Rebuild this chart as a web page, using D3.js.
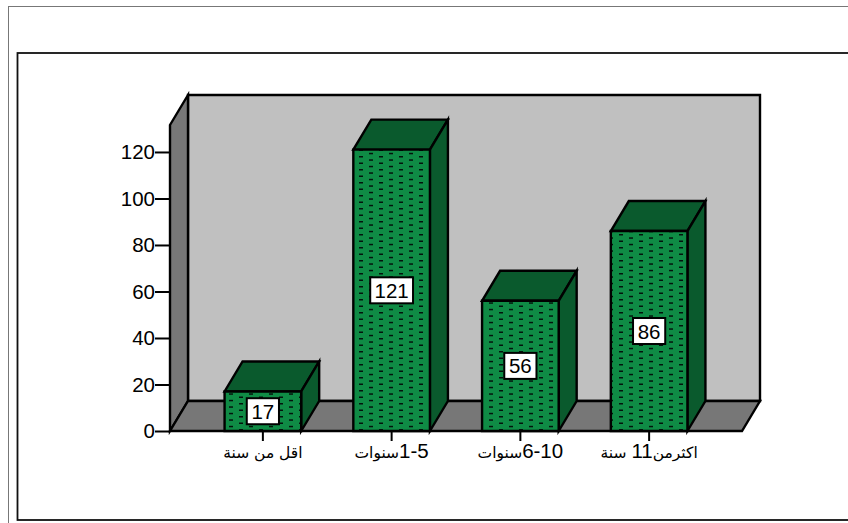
<!DOCTYPE html>
<html>
<head>
<meta charset="utf-8">
<script src="https://cdn.jsdelivr.net/npm/d3@7"></script>
<style>
  html, body { margin: 0; padding: 0; background: #fff; }
  svg { display: block; }
  text { font-family: "Liberation Sans", Arial, sans-serif; fill: #000; }
</style>
</head>
<body>
<svg id="chart" width="848" height="523"></svg>
<script>
// Bar chart with a box-style 3D frame: number of people per years-of-experience group.
const categories = ["اقل من سنة", "1-5سنوات", "6-10سنوات", "اكثرمن11 سنة"];
const counts = [17, 121, 56, 86];
const yTicks = [0, 20, 40, 60, 80, 100, 120];

const colors = { wall: "#c0c0c0", floor: "#777777", front: "#0f8b45", shade: "#0a5a2d", ink: "#000" };
const depth = { x: 18, y: -30 };
const plot = { left: 170, right: 742, bottom: 431, top: 125 };
const digitFont = '"Liberation Sans", Arial, sans-serif';

const svg = d3.select("#chart");

const y = d3.scaleLinear().domain([0, 131.6]).range([plot.bottom, plot.top]);
const x = d3.scaleBand().domain(categories).range([198.5, 713.5]).paddingInner(0.405).paddingOuter(0.2025);

const poly = (pts, fill) => svg.append("polygon")
  .attr("points", pts.map(p => p.join(",")).join(" "))
  .attr("fill", fill)
  .attr("stroke", colors.ink)
  .attr("stroke-width", 2.4)
  .attr("stroke-linejoin", "miter");

// Page frames
svg.append("rect").attr("x", 8.5).attr("y", 6.5).attr("width", 860).attr("height", 540)
  .attr("fill", "none").attr("stroke", "#777").attr("stroke-width", 1);
svg.append("rect").attr("x", 17.5).attr("y", 53).attr("width", 860).attr("height", 467)
  .attr("fill", "#fff").attr("stroke", "#111").attr("stroke-width", 1.8);

// Dotted fill for the front of each bar
const pattern = svg.append("defs").append("pattern")
  .attr("id", "dashes").attr("patternUnits", "userSpaceOnUse")
  .attr("x", -1).attr("y", 0).attr("width", 20).attr("height", 13);
pattern.append("rect").attr("width", 20).attr("height", 13).attr("fill", colors.front);
[[0, 0], [0, 6.5], [10, 3.3], [10, 9.8]].forEach(([px, py]) =>
  pattern.append("rect").attr("x", px).attr("y", py).attr("width", 4).attr("height", 1.5).attr("fill", "#02140c"));

// Back wall, side wall and floor
const L = plot.left, R = plot.right, B = plot.bottom, T = plot.top;
poly([[L + depth.x, T + depth.y], [R + depth.x, T + depth.y], [R + depth.x, B + depth.y], [L + depth.x, B + depth.y]], colors.wall);
poly([[L, B], [L, T], [L + depth.x, T + depth.y], [L + depth.x, B + depth.y]], colors.floor);
poly([[L, B], [R, B], [R + depth.x, B + depth.y], [L + depth.x, B + depth.y]], colors.floor);

// Axes
const yAxis = svg.append("g").attr("transform", `translate(${L},0)`)
  .call(d3.axisLeft(y).tickValues(yTicks).tickSize(15).tickPadding(0));
yAxis.select(".domain").remove();
yAxis.selectAll("line").attr("stroke", colors.ink).attr("stroke-width", 2);
yAxis.selectAll("text").attr("font-size", 20.5).attr("font-family", digitFont);

const xAxis = svg.append("g").attr("transform", `translate(0,${B})`)
  .call(d3.axisBottom(x).tickSize(10).tickPadding(3).tickFormat(""));
xAxis.select(".domain").remove();
xAxis.selectAll("line").attr("stroke", colors.ink).attr("stroke-width", 2);

// Category labels: digits are set larger than the Arabic words around them
xAxis.selectAll(".tick text").each(function (d) {
  const t = d3.select(this)
    .attr("direction", "rtl").attr("text-anchor", "middle")
    .attr("y", 0).attr("dy", 27);
  t.selectAll("tspan").data(d.match(/[0-9-]+|[^0-9-]+/g)).join("tspan")
    .text(s => s)
    .attr("font-size", s => /[0-9]/.test(s) ? 20.5 : 15.5)
    .attr("font-family", s => /[0-9]/.test(s) ? digitFont : '"DejaVu Sans", sans-serif');
});

// Bars
categories.forEach((c, i) => {
  const x0 = x(c), x1 = x0 + x.bandwidth(), yv = y(counts[i]);
  poly([[x0, yv], [x1, yv], [x1 + depth.x, yv + depth.y], [x0 + depth.x, yv + depth.y]], colors.shade);
  poly([[x1, B], [x1, yv], [x1 + depth.x, yv + depth.y], [x1 + depth.x, B + depth.y]], colors.shade);
  poly([[x0, B], [x0, yv], [x1, yv], [x1, B]], "url(#dashes)");
});

// Value labels in white boxes at mid-height of each bar
categories.forEach((c, i) => {
  const cx = x(c) + x.bandwidth() / 2;
  const cy = (y(counts[i]) + B) / 2;
  const w = String(counts[i]).length * 10.6 + 11;
  svg.append("rect").attr("x", cx - w / 2).attr("y", cy - 13).attr("width", w).attr("height", 26)
    .attr("fill", "#fff").attr("stroke", "#000").attr("stroke-width", 2);
  svg.append("text").attr("x", cx).attr("y", cy + 7.5).attr("text-anchor", "middle")
    .attr("font-size", 20.5).text(counts[i]);
});
</script>
</body>
</html>
